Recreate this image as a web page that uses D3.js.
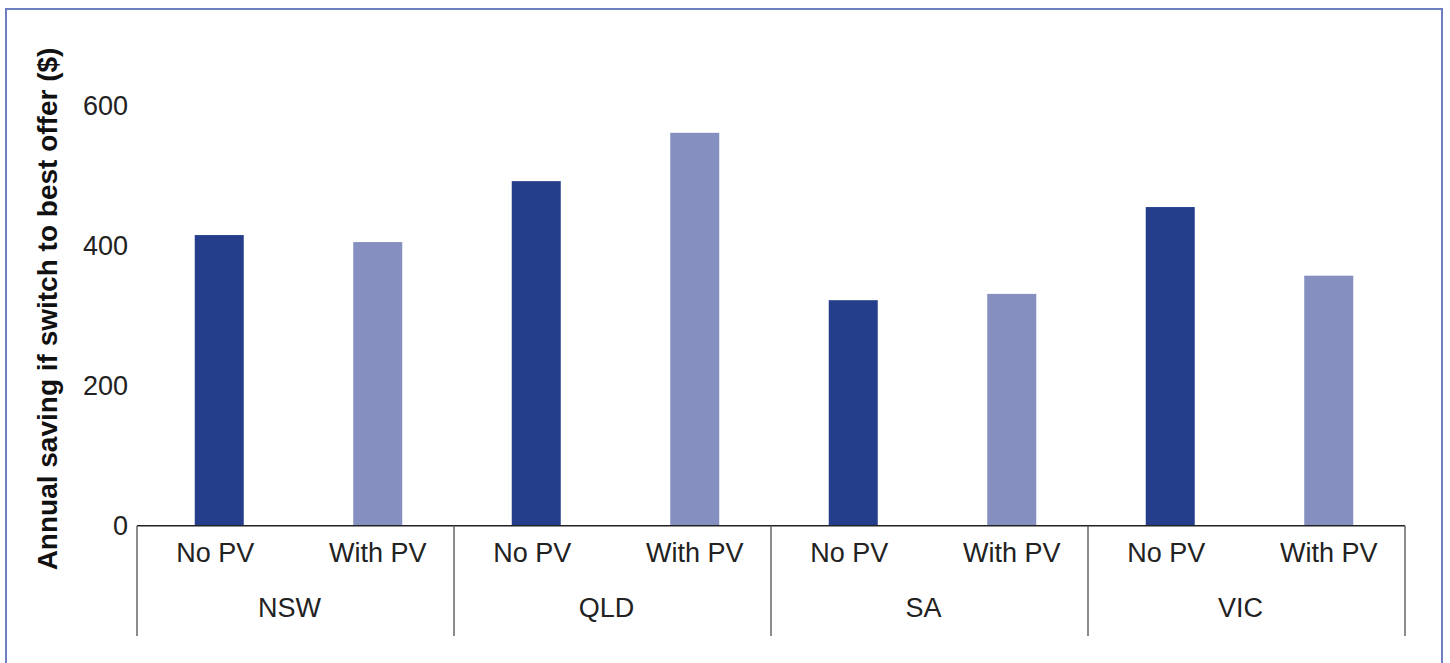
<!DOCTYPE html>
<html>
<head>
<meta charset="utf-8">
<script src="https://cdn.jsdelivr.net/npm/d3@7"></script>
<style>
  html, body { margin: 0; padding: 0; background: #fff; overflow: hidden; }
  svg { display: block; font-family: "Liberation Sans", Arial, Helvetica, sans-serif; }
</style>
</head>
<body>
<svg id="chart" width="1450" height="663"></svg>
<script>
// ---- data ----
const regions = ["NSW", "QLD", "SA", "VIC"];
const seriesNames = ["No PV", "With PV"];
const noPV = [415, 492, 322, 455];
const withPV = [405, 561, 331, 357];
const yTicks = [0, 200, 400, 600];
const yTitle = "Annual saving if switch to best offer ($)";
const colors = ["#253E8C", "#858FC0"];

const seriesValues = [noPV, withPV];

// ---- layout ----
const svg = d3.select("#chart");
const plotLeft = 137, plotRight = 1405;
const y0 = 525.7, yTop = 105.5;
const groupBottom = 636;
const fontSize = 27;

// outer border (bottom edge falls outside the canvas, as in the reference)
svg.append("rect")
  .attr("x", 6).attr("y", 9)
  .attr("width", 1436).attr("height", 670)
  .attr("fill", "none")
  .attr("stroke", "#6E7FBF")
  .attr("stroke-width", 2);

const x0 = d3.scaleBand().domain(regions).range([plotLeft, plotRight]).padding(0);
const x1 = d3.scaleBand().domain(seriesNames).range([0, x0.bandwidth()]).padding(0);
const y = d3.scaleLinear().domain([0, 600]).range([y0, yTop]);

const barW = 49;
const barShift = 3;
const labelShift = s => (s === seriesNames[0] ? -1 : 3);

// bars
const rows = [];
regions.forEach((r, i) => {
  seriesNames.forEach((s, j) => {
    rows.push({ region: r, series: s, value: seriesValues[j][i], color: colors[j] });
  });
});

svg.append("g").selectAll("rect")
  .data(rows)
  .join("rect")
  .attr("x", d => x0(d.region) + x1(d.series) + (x1.bandwidth() - barW) / 2 + barShift)
  .attr("y", d => y(d.value))
  .attr("width", barW)
  .attr("height", d => y(0) - y(d.value))
  .attr("fill", d => d.color);

// y axis (labels only)
const yAxis = d3.axisLeft(y).tickValues(yTicks).tickSize(0).tickPadding(0).tickFormat(d3.format("d"));
const yg = svg.append("g").attr("transform", `translate(128,0)`).call(yAxis);
yg.select(".domain").remove();
yg.selectAll("text")
  .attr("font-size", fontSize)
  .attr("fill", "#222")
  .attr("font-family", "\"Liberation Sans\", Arial, sans-serif");

// x axis baseline
svg.append("line")
  .attr("x1", plotLeft).attr("x2", plotRight)
  .attr("y1", y0).attr("y2", y0)
  .attr("stroke", "#222").attr("stroke-width", 1.5);

// group separators
const bounds = regions.map(r => x0(r)).concat([plotRight]);
svg.append("g").selectAll("line")
  .data(bounds)
  .join("line")
  .attr("x1", d => d).attr("x2", d => d)
  .attr("y1", y0).attr("y2", groupBottom)
  .attr("stroke", "#666").attr("stroke-width", 1.5);

// category labels
svg.append("g").selectAll("text")
  .data(rows)
  .join("text")
  .attr("x", d => x0(d.region) + x1(d.series) + x1.bandwidth() / 2 + labelShift(d.series))
  .attr("y", 553)
  .attr("dy", "0.35em")
  .attr("text-anchor", "middle")
  .attr("font-size", fontSize)
  .attr("fill", "#222")
  .text(d => d.series);

// group labels
svg.append("g").selectAll("text")
  .data(regions)
  .join("text")
  .attr("x", d => x0(d) + x0.bandwidth() / 2 - 6)
  .attr("y", 608)
  .attr("dy", "0.35em")
  .attr("text-anchor", "middle")
  .attr("font-size", fontSize)
  .attr("fill", "#222")
  .text(d => d);

// y title
svg.append("text")
  .attr("transform", `translate(47,${(50 + 568) / 2}) rotate(-90)`)
  .attr("dy", "0.35em")
  .attr("text-anchor", "middle")
  .attr("font-size", 28)
  .attr("font-weight", "bold")
  .attr("fill", "#111")
  .text(yTitle);
</script>
</body>
</html>
